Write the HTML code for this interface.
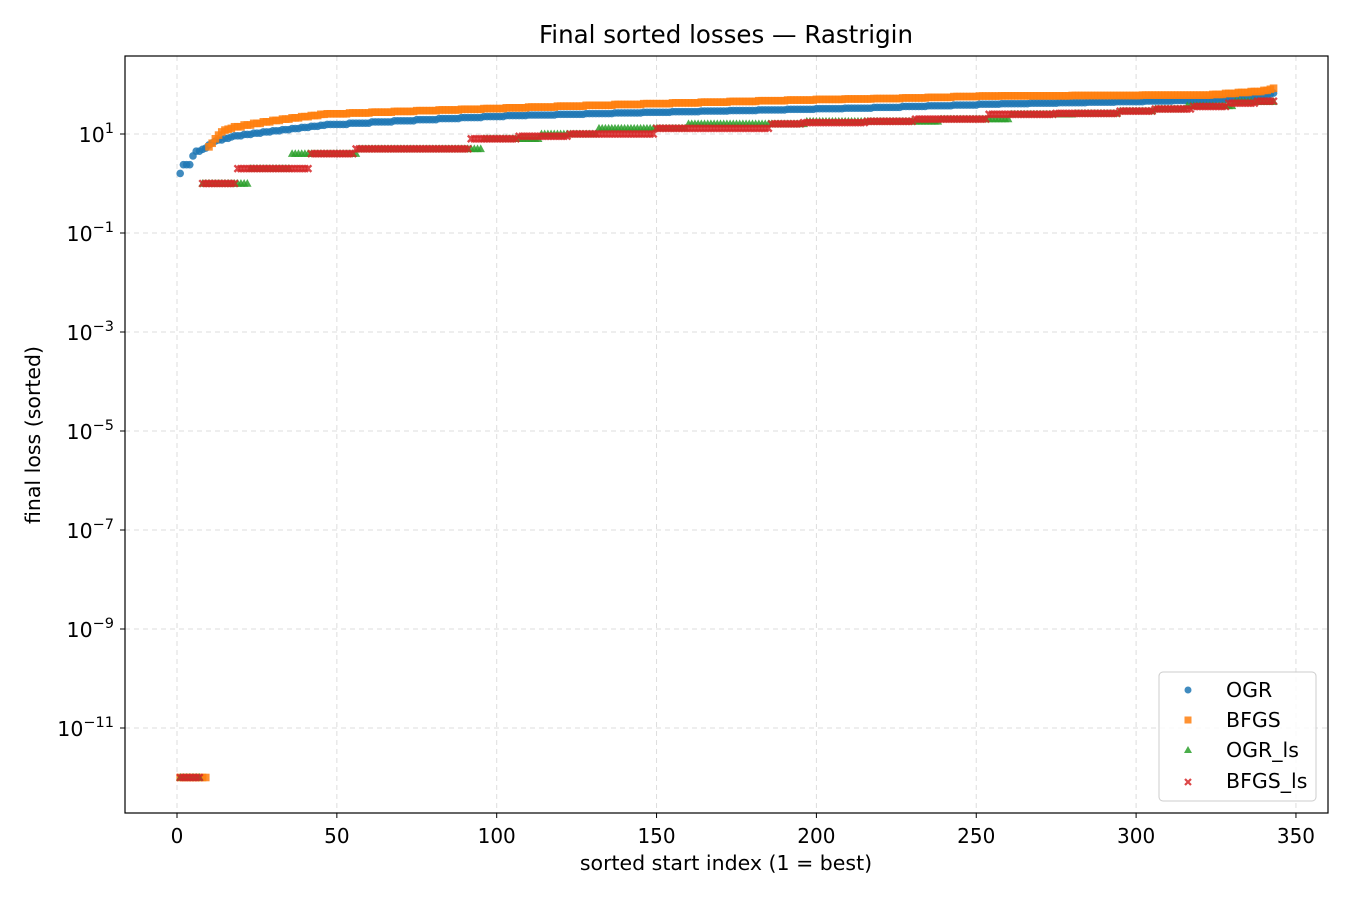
<!DOCTYPE html>
<html><head><meta charset="utf-8"><style>
html,body{margin:0;padding:0;background:#fff;}
svg text{font-family:"DejaVu Sans","Liberation Sans",sans-serif;fill:#000;}
</style></head><body>
<svg id="chart" width="1350" height="900" xmlns="http://www.w3.org/2000/svg">
<rect width="1350" height="900" fill="#fff"/>
<text x="726" y="43" font-size="24.5" text-anchor="middle">Final sorted losses — Rastrigin</text>
<g id="grid"></g>
<g id="marks"></g>
<rect x="125" y="56" width="1203" height="757" fill="none" stroke="#000" stroke-width="1.2"/>
<g id="axes"></g>
<text x="726" y="870" font-size="20.5" text-anchor="middle">sorted start index (1 = best)</text>
<text transform="translate(40,435) rotate(-90)" font-size="20.5" text-anchor="middle">final loss (sorted)</text>
<g>
<rect x="1159" y="672" width="157" height="129" rx="4" fill="#fff" fill-opacity="0.8" stroke="#ccc"/>
<g><circle cx="1188" cy="690" r="3.5" fill="#1f77b4" fill-opacity="0.85"/><text x="1226" y="697" font-size="20.5">OGR</text></g>
<g><rect x="1184.5" y="716.5" width="7" height="7" fill="#ff7f0e" fill-opacity="0.85"/><text x="1226" y="727" font-size="20.5">BFGS</text></g>
<g><polygon points="1188,746 1192,753 1184,753" fill="#2ca02c" fill-opacity="0.85"/><text x="1226" y="757" font-size="20.5">OGR_ls</text></g>
<g><path d="M1185,779L1191,785M1191,779L1185,785" stroke="#d62728" stroke-opacity="0.85" stroke-width="2.2"/><text x="1226" y="788" font-size="20.5">BFGS_ls</text></g>
</g>
</svg>
<script>
// run-length encoded data: [value, count]
const ogrRuns=[[1.6,1],[2.4,3],[3.6,1],[4.5,2],[4.9,1],[5.2,1],[6.0,1],[6.6,1],[7.2,1],[7.6,2],[8.2,2],[8.7,1],
[9.2,3],[9.8,3],[10.4,3],[11,3],[11.6,3],[12.2,3],[12.9,3],[13.6,3],[14.3,3],[15,2],
[15.6,7],[16.5,7],[17.5,7],[18.5,7],[19.5,7],[20.5,7],[21.5,7],[22.5,7],[23.6,7],
[24.2,9],[25,9],[25.8,9],[26.6,9],[27.4,9],[28.2,9],[29,9],[29.8,9],[30.6,9],[31.5,9],[32.4,9],[33.3,9],[34.5,9],
[36,8],[37.2,8],[38.5,8],[40,7],
[41,9],[42,9],[43,9],[44,9],[45,9],[46.2,9],[47.5,9],
[48.5,4],[50,4],[52,4],[54,4],[57,3],[60,2],[64,1],[67,1]];
const bfgsRuns=[[1e-12,9],[5.5,1],[6.5,1],[8,1],[9.5,1],[11,1],[12,1],[12.5,1],[13,1],
[14,3],[15.2,3],[16.4,3],[17.6,3],[18.8,3],[20,3],[21.2,3],[22.4,3],[23.6,3],[25,2],
[25.6,7],[26.6,7],[27.6,7],[28.6,7],[29.6,7],[30.6,7],[31.6,7],[32.6,7],[33.8,7],
[35,9],[36.5,9],[38,9],[39.5,9],[41,9],[42.5,9],[44,9],[45.5,9],[47,9],[48.5,9],[50,9],[51,9],[52,9],
[53.5,8],[55,8],[57,8],[58.5,7],
[59,22],[60,22],[61,22],
[63,4],[66,4],[69,4],[72,4],[76,2],[80,1],[84,1]];
const ogrLsRuns=[[1e-12,7],[1,15],[2,13],[4,21],[5,39],[8,18],[10,18],[13,28],[16,37],[18,42],[20,22],[25,20],[26,14],[29,11],[32,10],[37,15],[45,13]];
const bfgsLsRuns=[[1e-12,7],[1,11],[2,23],[4,14],[5,36],[8,15],[9,16],[10,27],[13,36],[16,10],[17,20],[18,15],[20,23],[25,21],[26,20],[29,11],[32,12],[36,11],[42,9],[46,6]];
const xTicks=[0,50,100,150,200,250,300,350];
const yTickExps=[1,-1,-3,-5,-7,-9,-11];

const NS='http://www.w3.org/2000/svg';
function X(i){return 177+i*3.197;}
function Y(v){return 134-(Math.log10(v)-1)*49.5;}
function mk(tag,attrs,parent){const e=document.createElementNS(NS,tag);for(const k in attrs)e.setAttribute(k,attrs[k]);parent.appendChild(e);return e;}
function expand(r){const out=[];r.forEach(p=>{for(let k=0;k<p[1];k++)out.push(p[0]);});return out;}
const grid=document.getElementById('grid'),axes=document.getElementById('axes'),marks=document.getElementById('marks');
xTicks.forEach(t=>{
  const x=X(t);
  const g=mk('line',{x1:x,x2:x,y1:56,y2:813,stroke:'#ddd','stroke-dasharray':'5,4','stroke-width':1},grid);
  
  
  const tk=mk('line',{x1:x,x2:x,y1:813,y2:818,stroke:'#000'},axes);
  
  
  const tx=mk('text',{x:x,y:843,'font-size':20,'text-anchor':'middle'},axes);tx.textContent=t;
  
  
});
yTickExps.forEach(e=>{
  const y=Y(Math.pow(10,e));
  const g=mk('line',{x1:125,x2:1328,y1:y,y2:y,stroke:'#ddd','stroke-dasharray':'5,4','stroke-width':1},grid);
  
  
  const tk=mk('line',{x1:120,x2:125,y1:y,y2:y,stroke:'#000'},axes);
  
  
  const tx=mk('text',{x:114,y:y+8,'font-size':20.5,'text-anchor':'end'},axes);
  
  
  const b=mk('tspan',{},tx);b.textContent='10';
  const s=mk('tspan',{dy:-9,'font-size':14.5},tx);s.textContent=(e<0?'\u2212':'')+Math.abs(e);
});
function series(runs,name,color,shape){
  const g=mk('g',{fill:color,'fill-opacity':0.85},marks);
  
  
  expand(runs).forEach((v,i)=>{
    const x=X(i+1),y=Y(v);let el;
    if(shape==='c')el=mk('circle',{cx:x,cy:y,r:3.8},g);
    else if(shape==='s')el=mk('rect',{x:x-3.8,y:y-3.8,width:7.6,height:7.6},g);
    else if(shape==='t')el=mk('polygon',{points:`${x},${y-4.5} ${x+4.2},${y+3.2} ${x-4.2},${y+3.2}`},g);
    else el=mk('path',{d:`M${x-3.3},${y-3.3}L${x+3.3},${y+3.3}M${x+3.3},${y-3.3}L${x-3.3},${y+3.3}`,stroke:color,'stroke-width':2.4,'stroke-opacity':0.85,fill:'none'},g);
    
    
  });
}
series(ogrRuns,'series-ogr','#1f77b4','c');
series(bfgsRuns,'series-bfgs','#ff7f0e','s');
series(ogrLsRuns,'series-ogr-ls','#2ca02c','t');
series(bfgsLsRuns,'series-bfgs-ls','#d62728','x');
</script>
</body></html>
